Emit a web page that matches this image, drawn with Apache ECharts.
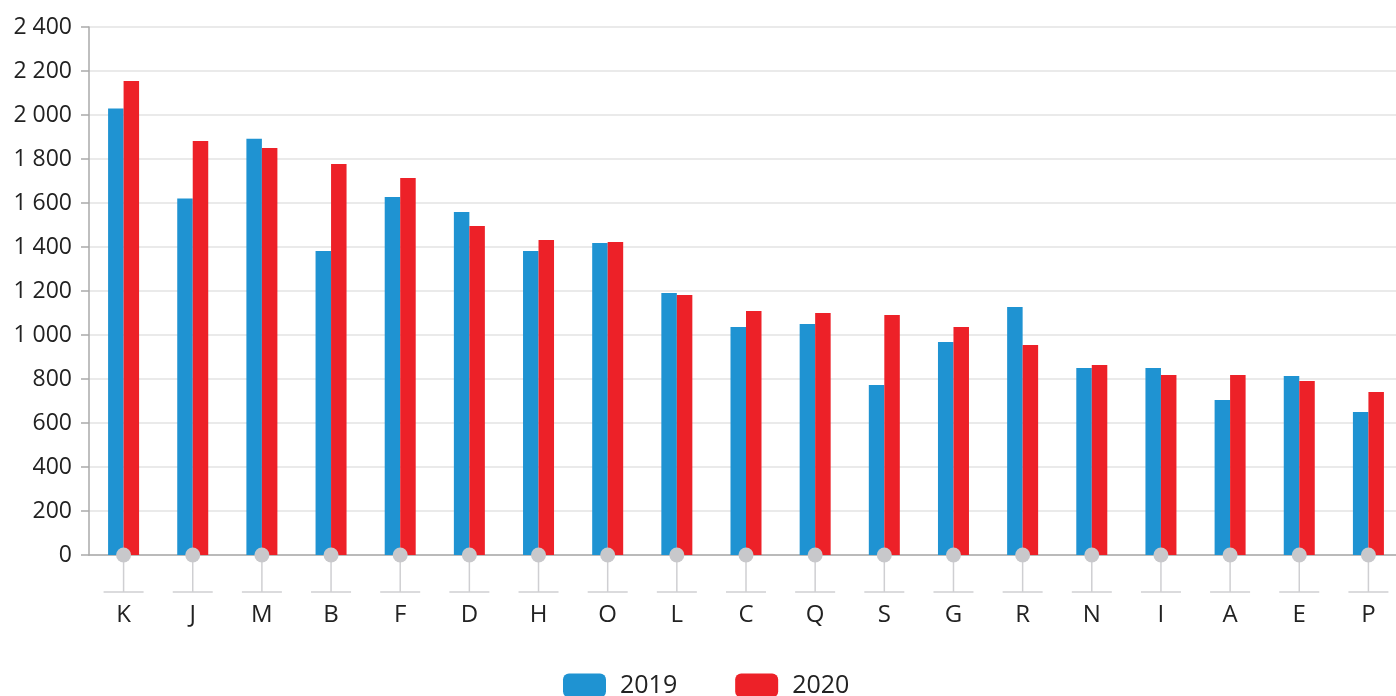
<!DOCTYPE html>
<html>
<head>
<meta charset="utf-8">
<script src="https://cdn.jsdelivr.net/npm/echarts@6/dist/echarts.min.js"></script>
<style>
  html, body { margin: 0; padding: 0; background: #fff; }
  #chart { width: 1396px; height: 696px; }
</style>
</head>
<body>
<div id="chart"></div>
<script>
var categories = ['K', 'J', 'M', 'B', 'F', 'D', 'H', 'O', 'L', 'C', 'Q', 'S', 'G', 'R', 'N', 'I', 'A', 'E', 'P'];
var values2019 = [2030, 1620, 1892, 1382, 1627, 1559, 1382, 1418, 1191, 1036, 1050, 773, 968, 1127, 850, 850, 705, 814, 650];
var values2020 = [2155, 1882, 1850, 1777, 1714, 1495, 1432, 1423, 1182, 1109, 1100, 1091, 1036, 955, 864, 818, 818, 791, 741];

var font = "'Open Sans', sans-serif";
var chart = echarts.init(document.getElementById('chart'));

// decoration under each category: dot on the axis, stem and short bar
function renderMarker(params, api) {
    var p = api.coord([api.value(0), 0]);
    var stroke = { stroke: '#cfcfd2', lineWidth: 1.5 };
    return {
        type: 'group',
        children: [
            { type: 'line', shape: { x1: p[0], y1: p[1], x2: p[0], y2: p[1] + 37 }, style: stroke },
            { type: 'line', shape: { x1: p[0] - 20, y1: p[1] + 37, x2: p[0] + 20, y2: p[1] + 37 }, style: stroke },
            { type: 'circle', shape: { cx: p[0], cy: p[1], r: 7.5 }, style: { fill: '#c8c8cb' } }
        ]
    };
}

chart.setOption({
    animation: false,
    grid: { left: 89, width: 1314, top: 27, height: 528, outerBoundsMode: 'none' },
    legend: {
        data: ['2019', '2020'],
        left: 563,
        top: 673,
        padding: 0,
        icon: 'roundRect',
        itemWidth: 43,
        itemHeight: 24,
        itemGap: 58,
        textStyle: { fontFamily: font, fontSize: 25, color: '#222', padding: [0, 0, 0, 9] }
    },
    xAxis: {
        type: 'category',
        data: categories,
        axisLine: { lineStyle: { color: '#aaaaaa', width: 1.5 } },
        axisTick: { show: false },
        axisLabel: { fontFamily: font, fontSize: 24, color: '#222', margin: 48 }
    },
    yAxis: {
        type: 'value',
        min: 0,
        max: 2400,
        interval: 200,
        axisLine: { show: true, lineStyle: { color: '#aaaaaa', width: 1.5 } },
        axisTick: { show: true, length: 8, lineStyle: { color: '#aaaaaa', width: 1.5 } },
        splitLine: { lineStyle: { color: '#e3e3e3', width: 1.5 } },
        axisLabel: {
            fontFamily: font, fontSize: 23, color: '#222', margin: 17,
            formatter: function (v) { return String(v).replace(/\B(?=(\d{3})+(?!\d))/g, ' '); }
        }
    },
    series: [
        { name: '2019', type: 'bar', data: values2019, barWidth: 15.5, barGap: '0%', itemStyle: { color: '#1f93d2' } },
        { name: '2020', type: 'bar', data: values2020, barWidth: 15.5, barGap: '0%', itemStyle: { color: '#ed2128' } },
        {
            type: 'custom',
            data: categories.map(function (c, i) { return [i, 0]; }),
            renderItem: renderMarker,
            clip: false,
            silent: true,
            z: 5
        }
    ]
});
</script>
</body>
</html>
